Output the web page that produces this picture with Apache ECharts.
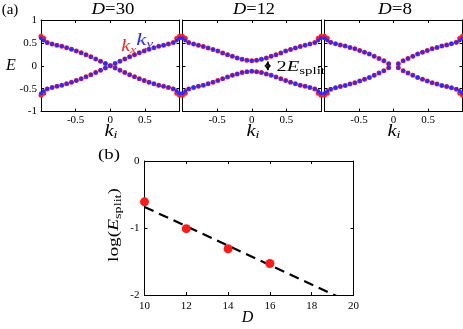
<!DOCTYPE html>
<html><head><meta charset="utf-8">
<script src="https://cdn.jsdelivr.net/npm/echarts@6/dist/echarts.min.js"></script>
<style>html,body{margin:0;padding:0;background:#fff}#c{width:463px;height:329px}</style>
</head><body><div id="c"></div>
<script>
// ---------- DATA ----------
const kGrid = [-1.0,-0.96,-0.91,-0.84,-0.77,-0.70,-0.63,-0.56,-0.49,-0.42,-0.35,-0.28,-0.21,-0.14,-0.07,0,0.07,0.14,0.21,0.28,0.35,0.42,0.49,0.56,0.63,0.70,0.77,0.84,0.91,0.96,1.0];

// D = 30
const d30_ky_up = [0.60,0.55,0.505,0.475,0.45,0.425,0.395,0.36,0.325,0.285,0.24,0.195,0.145,0.10,0.05,0.0,0.05,0.10,0.145,0.195,0.24,0.285,0.325,0.36,0.395,0.425,0.45,0.475,0.505,0.55,0.60];
const d30_ky_dn = [-0.60,-0.55,-0.505,-0.475,-0.45,-0.425,-0.395,-0.36,-0.325,-0.285,-0.24,-0.195,-0.145,-0.10,-0.05,0.0,-0.05,-0.10,-0.145,-0.195,-0.24,-0.285,-0.325,-0.36,-0.395,-0.425,-0.45,-0.475,-0.505,-0.55,-0.60];
const d30_kx_up = [0.645,0.60,0.51,0.475,0.45,0.425,0.395,0.36,0.325,0.285,0.24,0.195,0.145,0.10,0.05,0.0,0.05,0.10,0.145,0.195,0.24,0.285,0.325,0.36,0.395,0.425,0.45,0.475,0.51,0.60,0.645];
const d30_kx_dn = [-0.645,-0.60,-0.51,-0.475,-0.45,-0.425,-0.395,-0.36,-0.325,-0.285,-0.24,-0.195,-0.145,-0.10,-0.05,0.0,-0.05,-0.10,-0.145,-0.195,-0.24,-0.285,-0.325,-0.36,-0.395,-0.425,-0.45,-0.475,-0.51,-0.60,-0.645];

// D = 12
const d12_ky_up = [0.60,0.55,0.505,0.475,0.45,0.42,0.39,0.355,0.32,0.28,0.24,0.205,0.17,0.14,0.12,0.11,0.12,0.14,0.17,0.205,0.24,0.28,0.32,0.355,0.39,0.42,0.45,0.475,0.505,0.55,0.60];
const d12_ky_dn = [-0.60,-0.55,-0.505,-0.475,-0.45,-0.425,-0.395,-0.36,-0.325,-0.285,-0.245,-0.21,-0.18,-0.15,-0.13,-0.12,-0.13,-0.15,-0.18,-0.21,-0.245,-0.285,-0.325,-0.36,-0.395,-0.425,-0.45,-0.475,-0.505,-0.55,-0.60];
const d12_kx_up = [0.645,0.60,0.51,0.475,0.45,0.42,0.39,0.355,0.32,0.28,0.24,0.205,0.17,0.14,0.12,0.11,0.12,0.14,0.17,0.205,0.24,0.28,0.32,0.355,0.39,0.42,0.45,0.475,0.51,0.60,0.645];
const d12_kx_dn = [-0.645,-0.60,-0.51,-0.475,-0.45,-0.425,-0.395,-0.36,-0.325,-0.285,-0.245,-0.21,-0.18,-0.15,-0.13,-0.12,-0.13,-0.15,-0.18,-0.21,-0.245,-0.285,-0.325,-0.36,-0.395,-0.425,-0.45,-0.475,-0.51,-0.60,-0.645];

// D = 8
const d8_ky_up = [0.60,0.55,0.51,0.48,0.455,0.43,0.40,0.37,0.335,0.295,0.255,0.21,0.16,0.11,0.045,null,0.045,0.11,0.16,0.21,0.255,0.295,0.335,0.37,0.40,0.43,0.455,0.48,0.51,0.55,0.60];
const d8_ky_dn = [-0.60,-0.55,-0.51,-0.48,-0.455,-0.43,-0.40,-0.37,-0.335,-0.295,-0.255,-0.21,-0.16,-0.11,-0.045,null,-0.045,-0.11,-0.16,-0.21,-0.255,-0.295,-0.335,-0.37,-0.40,-0.43,-0.455,-0.48,-0.51,-0.55,-0.60];
const d8_kx_up = [0.645,0.60,0.515,0.48,0.455,0.43,0.40,0.37,0.335,0.295,0.255,0.21,0.16,0.11,0.045,null,0.045,0.11,0.16,0.21,0.255,0.295,0.335,0.37,0.40,0.43,0.455,0.48,0.515,0.60,0.645];
const d8_kx_dn = [-0.645,-0.60,-0.515,-0.48,-0.455,-0.43,-0.40,-0.37,-0.335,-0.295,-0.255,-0.21,-0.16,-0.11,-0.045,null,-0.045,-0.11,-0.16,-0.21,-0.255,-0.295,-0.335,-0.37,-0.40,-0.43,-0.455,-0.48,-0.515,-0.60,-0.645];

const panelTitles = ['30','12','8'];

// split arrow annotation (data coords in the D=12 panel)
const splitArrowK = 0.23;
const splitArrowE = [0.095, -0.10];

// Panel (b)
const bD = [10, 12, 14, 16];
const bLogE = [-0.61, -1.01, -1.31, -1.53];
const fitD = [10, 20];
const fitLogE = [-0.685, -2.133];

// ---------- STYLE / LAYOUT ----------
const FONT = 'Liberation Serif';
const RED = '#ff2222', BLUE = '#2b2bff';
const gridsA = [
  {left: 41, top: 20, width: 138.5, height: 91.5},
  {left: 182.5, top: 20, width: 138.5, height: 91.5},
  {left: 324.5, top: 20, width: 138, height: 91.5}
];
const gridB = {left: 144.5, top: 161, width: 209, height: 134};

function pairs(xs, ys) { const out = []; xs.forEach((x, i) => { if (ys[i] !== null && ys[i] !== undefined) out.push([x, ys[i]]); }); return out; }

const axisLineStyle = {show: true, onZero: false, lineStyle: {color: '#000', width: 1}};
const tickStyle = {show: true, inside: true, length: 3, lineStyle: {color: '#000', width: 1}};
function labelStyle(show, margin, hideEnds) {
  return {show, color: '#000', fontFamily: FONT, fontSize: 11, margin, showMinLabel: !hideEnds, showMaxLabel: !hideEnds};
}

const grid = [], xAxis = [], yAxis = [], series = [];
gridsA.forEach((g, gi) => {
  grid.push(g);
  xAxis.push({gridIndex: gi, type: 'value', min: -1, max: 1, interval: 0.5, position: 'bottom',
    axisLine: axisLineStyle, axisTick: tickStyle, axisLabel: labelStyle(true, 3, true), splitLine: {show: false}});
  xAxis.push({gridIndex: gi, type: 'value', min: -1, max: 1, interval: 0.5, position: 'top',
    axisLine: axisLineStyle, axisTick: tickStyle, axisLabel: {show: false}, splitLine: {show: false}});
  yAxis.push({gridIndex: gi, type: 'value', min: -1, max: 1, interval: 0.5, position: 'left',
    axisLine: axisLineStyle, axisTick: tickStyle, axisLabel: labelStyle(gi === 0, 4, false), splitLine: {show: false}});
  yAxis.push({gridIndex: gi, type: 'value', min: -1, max: 1, interval: 0.5, position: 'right',
    axisLine: axisLineStyle, axisTick: tickStyle, axisLabel: {show: false}, splitLine: {show: false}});
});
grid.push(gridB);
xAxis.push({gridIndex: 3, type: 'value', min: 10, max: 20, interval: 2, position: 'bottom',
  axisLine: axisLineStyle, axisTick: tickStyle, axisLabel: labelStyle(true, 6, false), splitLine: {show: false}});
xAxis.push({gridIndex: 3, type: 'value', min: 10, max: 20, interval: 2, position: 'top',
  axisLine: axisLineStyle, axisTick: tickStyle, axisLabel: {show: false}, splitLine: {show: false}});
yAxis.push({gridIndex: 3, type: 'value', min: -2, max: 0, interval: 1, position: 'left',
  axisLine: axisLineStyle, axisTick: tickStyle, axisLabel: labelStyle(true, 5, false), splitLine: {show: false}});
yAxis.push({gridIndex: 3, type: 'value', min: -2, max: 0, interval: 1, position: 'right',
  axisLine: axisLineStyle, axisTick: tickStyle, axisLabel: {show: false}, splitLine: {show: false}});

const panelData = [
  [d30_kx_up, d30_kx_dn, d30_ky_up, d30_ky_dn],
  [d12_kx_up, d12_kx_dn, d12_ky_up, d12_ky_dn],
  [d8_kx_up, d8_kx_dn, d8_ky_up, d8_ky_dn]
];
panelData.forEach((arr, pi) => {
  const xi = pi * 2, yi = pi * 2;
  series.push({type: 'scatter', xAxisIndex: xi, yAxisIndex: yi, symbolSize: 5, itemStyle: {color: RED, opacity: 1},
    data: pairs(kGrid, arr[0]).concat(pairs(kGrid, arr[1])), silent: true, z: 2});
  const blue = {type: 'scatter', xAxisIndex: xi, yAxisIndex: yi, symbolSize: 4, itemStyle: {color: BLUE, opacity: 1},
    data: pairs(kGrid, arr[2]).concat(pairs(kGrid, arr[3])), silent: true, z: 3};
  if (pi === 1) {
    blue.markLine = {silent: true, symbol: ['arrow', 'arrow'], symbolSize: [5, 5], animation: false,
      lineStyle: {color: '#000', type: 'solid', width: 1.5}, label: {show: false},
      data: [[{coord: [splitArrowK, splitArrowE[0]]}, {coord: [splitArrowK, splitArrowE[1]]}]]};
  }
  series.push(blue);
});
series.push({type: 'line', xAxisIndex: 6, yAxisIndex: 6, data: pairs(fitD, fitLogE), showSymbol: false, clip: true,
  lineStyle: {color: '#000', width: 2.2, type: [10, 6]}, silent: true, z: 2});
series.push({type: 'scatter', xAxisIndex: 6, yAxisIndex: 6, data: pairs(bD, bLogE), symbolSize: 9,
  itemStyle: {color: '#ff1a1a', opacity: 1}, silent: true, z: 3});

// ---------- TEXT HELPERS ----------
const ctx = document.createElement('canvas').getContext('2d');
// parts laid out horizontally; optional target width stretches the group horizontally
function txt(parts, x, y, o) {
  o = o || {};
  let w = 0; const kids = [];
  parts.forEach(p => {
    const font = (p.it ? 'italic ' : '') + p.s + 'px "' + FONT + '"';
    ctx.font = font;
    const tw = ctx.measureText(p.t).width;
    kids.push({type: 'text', x: w, y: (p.dy || 0), silent: true,
      style: {text: p.t, font: font, fill: p.c || o.color || '#000', textAlign: 'left', align: 'left', textVerticalAlign: 'middle', verticalAlign: 'middle'}});
    w += tw;
  });
  const sx = o.w ? o.w / w : 1;
  const off = o.align === 'left' ? 0 : w / 2;
  kids.forEach(k => k.x -= off);
  return {type: 'group', x: x, y: y, rotation: o.rot || 0, scaleX: sx, children: kids};
}

const graphics = [];
graphics.push(txt([{t: '(a)', s: 15}], 10, 10, {w: 16.6}));
const titleX = [113, 254, 395];
const titleW = [43, 42, 34];
panelTitles.forEach((t, i) => {
  graphics.push(txt([{t: 'D', s: 17, it: true}, {t: '=' + t, s: 17}], titleX[i], 10, {w: titleW[i]}));
});
const kiX = [111, 253, 394];
kiX.forEach(x => graphics.push(txt([{t: 'k', s: 16, it: true}, {t: 'i', s: 11, it: true, dy: 3}], x, 132, {w: 13})));
graphics.push(txt([{t: 'E', s: 16, it: true}], 11, 66));
graphics.push(txt([{t: 'k', s: 16, it: true, c: RED}, {t: 'x', s: 11, it: true, dy: 3.5, c: RED}], 128.8, 47, {w: 15}));
graphics.push(txt([{t: 'k', s: 16, it: true, c: BLUE}, {t: 'y', s: 11, it: true, dy: 3.5, c: BLUE}], 144.7, 40.5, {w: 17}));
graphics.push(txt([{t: '2', s: 15}, {t: 'E', s: 15, it: true}, {t: 'split', s: 11, dy: 4}], 276.5, 67.5, {align: 'left', w: 48.5}));
graphics.push(txt([{t: '(b)', s: 15}], 109, 155, {w: 22}));
graphics.push(txt([{t: 'log(', s: 15}, {t: 'E', s: 15, it: true}, {t: 'split', s: 11, dy: 4}, {t: ')', s: 15}], 114.5, 225, {rot: Math.PI / 2, w: 74}));
graphics.push(txt([{t: 'D', s: 16, it: true}], 247.5, 318));

const chart = echarts.init(document.getElementById('c'), null, {renderer: 'canvas', width: 463, height: 329});
chart.setOption({animation: false, backgroundColor: '#fff', grid, xAxis, yAxis, series, graphic: graphics});
</script></body></html>
